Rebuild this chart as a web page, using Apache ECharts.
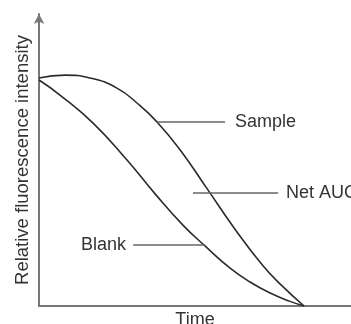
<!DOCTYPE html>
<html>
<head>
<meta charset="utf-8">
<script src="https://cdn.jsdelivr.net/npm/echarts@6/dist/echarts.min.js"></script>
<style>html,body{margin:0;padding:0;background:#fff;}#c{width:351px;height:324px;}</style>
</head>
<body>
<div id="c"></div>
<script>
// Time (arbitrary units, curves reach 0 at 100) and relative fluorescence (%)
var sampleTime = [0, 9.8, 19.2, 29.4, 37.4, 44.5, 53.2, 63.4, 74.0, 84.5, 92.1, 100];
var sampleValue = [78.9, 79.9, 78.9, 75.4, 69.9, 63.7, 54.1, 40.6, 26.5, 13.9, 6.6, 0];
var blankTime = [0, 7.9, 20.4, 33.2, 43.8, 54.3, 62.6, 72.1, 79.6, 87.2, 94.7, 100];
var blankValue = [78.2, 73.0, 63.3, 50.5, 38.8, 28.0, 20.8, 13.1, 8.3, 4.5, 1.6, 0];
// annotation leader lines: [label, xStart, xEnd, y]
var sampleNote = ['Sample', 44.5, 70.2, 63.7];
var aucNote = ['Net AUC', 58.1, 90.2, 39.1];
var blankNote = ['Blank', 35.5, 62.6, 21.1];

function pairs(xs, ys){ return xs.map(function(x,i){ return [x, ys[i]]; }); }
var txt = {color:'#333', fontSize:18, fontFamily:'Liberation Sans, Arial, sans-serif'};
function note(n, pos, dist){
  return [{coord:[n[1], n[3]], name:n[0]}, {coord:[n[2], n[3]],
    label:Object.assign({show:true, position:pos, distance:dist, formatter:n[0]}, txt)}];
}
var chart = echarts.init(document.getElementById('c'), null, {renderer:'canvas'});
chart.setOption({
  animation:false,
  grid:{left:39, right:0, top:14, bottom:18, outerBoundsMode:'none', containLabel:false},
  xAxis:{type:'value', min:0, max:117.7, name:'Time', nameLocation:'middle', nameGap:5,
    nameTextStyle:Object.assign({verticalAlign:'top'}, txt),
    axisLine:{lineStyle:{color:'#777', width:2}}, axisTick:{show:false}, axisLabel:{show:false}, splitLine:{show:false}},
  yAxis:{type:'value', min:0, max:101.04, name:'Relative fluorescence intensity', nameLocation:'middle', nameGap:7,
    nameTextStyle:Object.assign({}, txt, {fontSize:18.5}),
    axisLine:{show:true, symbol:['none','arrow'], symbolSize:[8,10], lineStyle:{color:'#777', width:2}},
    axisTick:{show:false}, axisLabel:{show:false}, splitLine:{show:false}},
  series:[
    {type:'line', data:pairs(sampleTime, sampleValue), smooth:0.5, symbol:'none',
      lineStyle:{color:'#2b2b2b', width:1.6},
      markLine:{silent:true, symbol:['none','none'], lineStyle:{color:'#666', width:1.5, type:'solid'},
        data:[note(sampleNote,'end',10), note(aucNote,'end',8)]}},
    {type:'line', data:pairs(blankTime, blankValue), smooth:0.5, symbol:'none',
      lineStyle:{color:'#2b2b2b', width:1.6},
      markLine:{silent:true, symbol:['none','none'], lineStyle:{color:'#666', width:1.5, type:'solid'},
        data:[note(blankNote,'start',7)]}}
  ]
});
</script>
</body>
</html>
